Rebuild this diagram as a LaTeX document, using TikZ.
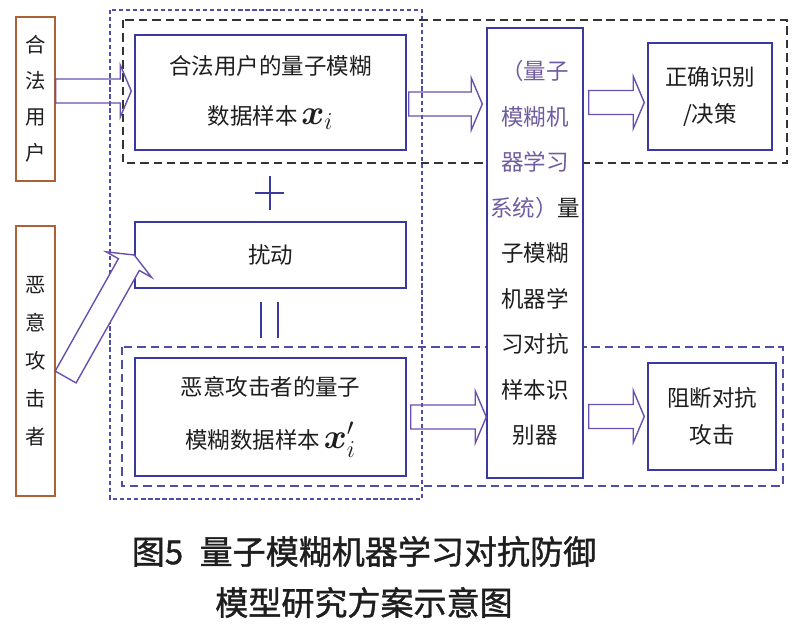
\documentclass[tikz,border=0pt]{standalone}
\usepackage{amsmath,amssymb}
\usepackage{fontspec}
\setmainfont{Noto Sans CJK SC}
\newfontfamily\capfont[FakeBold=1.2]{Noto Sans CJK SC}
\usepackage{tikz}
\usetikzlibrary{calc}
\definecolor{boxblue}{RGB}{58,58,158}
\definecolor{arrviolet}{RGB}{104,80,176}
\definecolor{userbrown}{RGB}{172,98,52}
\definecolor{sysviolet}{RGB}{112,92,160}
\definecolor{txtgray}{RGB}{30,30,30}
\newcommand{\fatarrow}[3][]{%
  \coordinate (fa-b) at ($(#3)!0.275cm!(#2)$);
  \draw[fatarrow,#1] ($(#2)!0.3cm!90:(#3)$) -- ($(fa-b)!0.3cm!90:(#3)$) -- ($(fa-b)!0.65cm!90:(#3)$)
    -- (#3) -- ($(fa-b)!0.65cm!-90:(#3)$) -- ($(fa-b)!0.3cm!-90:(#3)$) -- ($(#2)!0.3cm!-90:(#3)$) -- cycle;}

\begin{document}
\begin{tikzpicture}[x=0.025cm,y=-0.025cm,
  userbox/.style={draw=userbrown,line width=0.9pt,text=txtgray,align=center,inner sep=0pt,minimum width=0.975cm},
  blkbox/.style={draw=boxblue,line width=1pt,fill=white,text=txtgray,align=center,inner sep=0pt},
  fatarrow/.style={draw=arrviolet,line width=1pt,line join=miter},
  opline/.style={draw=boxblue,line width=2pt}]
\useasboundingbox (0,0) rectangle (802,634);

% dashed groups
\draw[boxblue!90,line width=0.9pt,dash pattern=on 3pt off 2pt] (110,10) rectangle (422,499);
\draw[black!80,line width=1.2pt,dash pattern=on 6pt off 3.5pt] (123,20) rectangle (787,163);
\draw[boxblue!90,line width=1.1pt,dash pattern=on 6pt off 3.5pt] (122,347) rectangle (783,486);

% users
\node[userbox,minimum height=4.1cm,font=\fontsize{14.5}{25.6}\selectfont] (leg) at (35.5,99) {合\\法\\用\\户};
\node[userbox,minimum height=6.75cm,font=\fontsize{14.5}{27}\selectfont] (mal) at (35.5,361) {恶\\意\\攻\\击\\者};

% samples
\node[blkbox,minimum width=6.775cm,minimum height=2.875cm,font=\fontsize{16}{35.6}\selectfont] (dat) at (270.5,92.5)
  {合法用户的量子模糊\\数据样本\,{\fontsize{24}{24}\selectfont$\boldsymbol{x}_i$}};
\node[blkbox,minimum width=6.775cm,minimum height=1.65cm,font=\fontsize{16}{20}\selectfont] (pert) at (270.5,255) {扰动};
\node[blkbox,minimum width=6.775cm,minimum height=2.95cm,font=\fontsize{16}{37.5}\selectfont] (adv) at (270.5,417)
  {恶意攻击者的量子\\模糊数据样本\,{\fontsize{24}{24}\selectfont$\boldsymbol{x}'_i$}};

% recogniser
\node[blkbox,minimum width=2.4cm,minimum height=11.25cm,font=\fontsize{16}{32.4}\selectfont] (sys) at (535,253)
  {\textcolor{sysviolet}{（量子}\\\textcolor{sysviolet}{模糊机}\\\textcolor{sysviolet}{器学习}\\\textcolor{sysviolet}{系统）}量\\子模糊\\机器学\\习对抗\\样本识\\别器};

% outputs
\node[blkbox,minimum width=3.1cm,minimum height=2.675cm,font=\fontsize{16}{26.3}\selectfont] (ok) at (710,96.5) {正确识别\\/决策};
\node[blkbox,minimum width=3.2cm,minimum height=2.675cm,font=\fontsize{16}{26.3}\selectfont] (blk) at (712,416.5) {阻断对抗\\攻击};

% plus and equal
\draw[opline] (270,176) -- (270,210);
\draw[opline] (255,193) -- (284,193);
\draw[opline] (261,302) -- (261,338);
\draw[opline] (278,302) -- (278,338);

% arrows
\coordinate (a1s) at ($(leg.east)+(0,-8)$);
\coordinate (a1e) at ($(dat.west |- a1s)+(-3,0)$);
\coordinate (a2s) at ($(dat.east)+(2,11.5)$);
\coordinate (a2e) at ($(sys.west |- a2s)+(-4,0)$);
\coordinate (a3s) at ($(sys.east |- ok.west)+(5,6)$);
\coordinate (a3e) at ($(ok.west |- a3s)+(-3,0)$);
\coordinate (a4s) at ($(adv.east)+(4,0)$);
\coordinate (a4e) at (sys.west |- a4s);
\coordinate (a5s) at ($(sys.east |- blk.west)+(5,0)$);
\coordinate (a5e) at ($(blk.west)+(-3,0)$);
\coordinate (a6s) at ($(mal.east)+(10,16)$);
\fatarrow{a1s}{a1e}
\fatarrow{a2s}{a2e}
\fatarrow{a3s}{a3e}
\fatarrow{a4s}{a4e}
\fatarrow{a5s}{a5e}
\fatarrow[fill=white]{a6s}{pert.west}

% caption
\node[text=txtgray,align=center,font=\capfont\fontsize{23.5}{36.3}\selectfont] (cap) at (364,577)
  {图5\hspace{0.5em}量子模糊机器学习对抗防御\\模型研究方案示意图};
\end{tikzpicture}
\end{document}
